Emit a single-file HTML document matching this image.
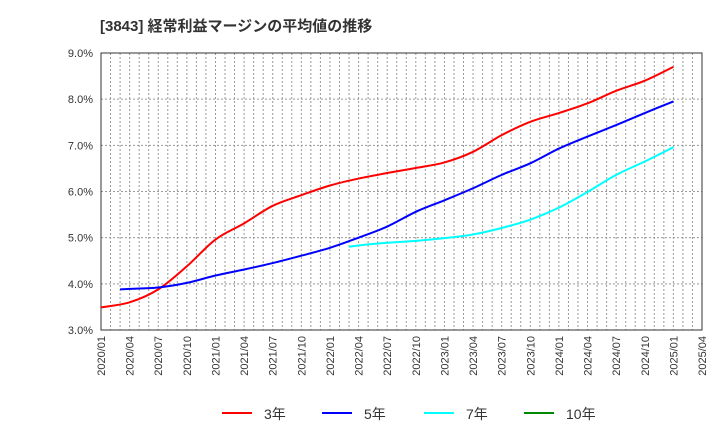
<!DOCTYPE html>
<html><head><meta charset="utf-8"><style>
body{margin:0;background:#fff;}
svg text{font-family:"Liberation Sans","Noto Sans CJK JP",sans-serif;}
</style></head><body>
<svg width="720" height="440" xmlns="http://www.w3.org/2000/svg">
<text x="100" y="31" font-size="15" font-weight="bold" fill="#333">[3843]  経常利益マージンの平均値の推移</text>
<g id="grid"></g><g id="axes"></g><g id="series"></g><g id="legend"></g>
</svg>
<script>
const xTickLabels=["2020/01","2020/04","2020/07","2020/10","2021/01","2021/04","2021/07","2021/10","2022/01","2022/04","2022/07","2022/10","2023/01","2023/04","2023/07","2023/10","2024/01","2024/04","2024/07","2024/10","2025/01","2025/04"];
const yTicks=[3,4,5,6,7,8,9];
const monthsRed=[0,3,6,9,12,15,18,21,24,27,30,33,36,39,42,45,48,51,54,57,60];
const valuesRed=[3.49,3.6,3.88,4.38,4.96,5.31,5.69,5.92,6.13,6.28,6.4,6.51,6.63,6.86,7.22,7.51,7.7,7.91,8.18,8.4,8.7];
const monthsBlue=[2,3,6,9,12,15,18,21,24,27,30,33,36,39,42,45,48,51,54,57,60];
const valuesBlue=[3.88,3.89,3.92,4.02,4.18,4.31,4.45,4.61,4.78,5.0,5.24,5.56,5.81,6.07,6.36,6.61,6.93,7.19,7.44,7.7,7.95];
const monthsCyan=[26,27,30,33,36,39,42,45,48,51,54,57,60];
const valuesCyan=[4.8,4.83,4.89,4.93,4.99,5.07,5.21,5.39,5.65,5.99,6.36,6.65,6.96];
const L=101,R=702,T=53,B=330,ns="http://www.w3.org/2000/svg";
const xs=m=>L+(R-L)*m/63;
const ys=v=>B-(B-T)*(v-3)/6;
function mk(tag,attrs,parent){const e=document.createElementNS(ns,tag);for(const k in attrs)e.setAttribute(k,attrs[k]);parent.appendChild(e);return e;}
const grid=document.getElementById('grid'),axes=document.getElementById('axes'),ser=document.getElementById('series'),leg=document.getElementById('legend');
for(let m=1;m<63;m++){const l=mk('line',{x1:xs(m),x2:xs(m),y1:T,y2:B,stroke:'#999','stroke-dasharray':'2,2','stroke-width':1},grid);

}
yTicks.forEach(v=>{const l=mk('line',{x1:L,x2:R,y1:ys(v),y2:ys(v),stroke:'#999','stroke-dasharray':'2,2','stroke-width':1},grid);


const t=mk('text',{x:93,y:ys(v)+4,'text-anchor':'end','font-size':11,fill:'#333'},axes);t.textContent=v.toFixed(1)+'%';

});
const fr=mk('rect',{x:L,y:T,width:R-L,height:B-T,fill:'none',stroke:'#333','stroke-width':1},axes);


xTickLabels.forEach((s,i)=>{const x=xs(i*3);const t=mk('text',{x:x+4,y:B+6,'text-anchor':'end','font-size':11,fill:'#333',transform:`rotate(-90 ${x+4} ${B+6})`},axes);t.textContent=s;

});
function path(ms,vs){const p=ms.map((m,i)=>[xs(m),ys(vs[i])]);let d=`M${p[0][0]},${p[0][1]}`;
for(let i=0;i<p.length-1;i++){const p0=p[i-1]||p[i],p1=p[i],p2=p[i+1],p3=p[i+2]||p2;
d+=` C${p1[0]+(p2[0]-p0[0])/6},${p1[1]+(p2[1]-p0[1])/6} ${p2[0]-(p3[0]-p1[0])/6},${p2[1]-(p3[1]-p1[1])/6} ${p2[0]},${p2[1]}`;}return d;}
[[monthsRed,valuesRed,'#f00','series-3y'],[monthsBlue,valuesBlue,'#00f','series-5y'],[monthsCyan,valuesCyan,'#0ff','series-7y']].forEach(([m,v,c,n])=>{
const p=mk('path',{d:path(m,v),fill:'none',stroke:c,'stroke-width':2},ser);

});
[['3年','#f00',222],['5年','#00f',322],['7年','#0ff',424],['10年','#080',524]].forEach(([s,c,x])=>{
const l=mk('line',{x1:x,x2:x+30,y1:413,y2:413,stroke:c,'stroke-width':2},leg);


const t=mk('text',{x:x+42,y:419,'font-size':14,fill:'#333'},leg);t.textContent=s;

});
</script>
</body></html>
